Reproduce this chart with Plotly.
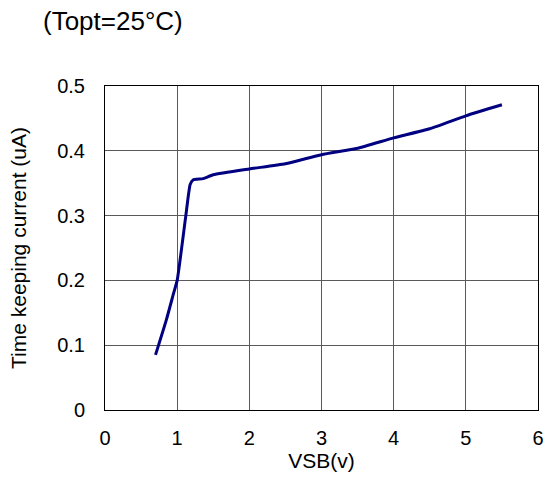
import plotly.graph_objects as go

vsb = [0.70, 0.85, 0.95, 1.00, 1.12, 1.18, 1.22, 1.36, 1.50, 2.00, 2.50, 3.00, 3.50, 4.00, 4.50, 5.00, 5.50]
current = [0.085, 0.139, 0.180, 0.200, 0.300, 0.348, 0.355, 0.357, 0.363, 0.372, 0.380, 0.394, 0.404, 0.420, 0.434, 0.454, 0.471]

x_ticks = [0, 1, 2, 3, 4, 5, 6]
y_ticks = [0, 0.1, 0.2, 0.3, 0.4, 0.5]
y_tick_labels = ["0", "0.1", "0.2", "0.3", "0.4", "0.5"]

FONT = "Arial, Liberation Sans, sans-serif"

fig = go.Figure()
fig.add_trace(go.Scatter(
    x=vsb, y=current, mode="lines",
    line=dict(color="#000080", width=3, shape="spline", smoothing=0.5),
    showlegend=False, hoverinfo="skip",
))

fig.update_layout(
    width=547, height=482,
    margin=dict(l=105, r=9, t=86, b=72),
    paper_bgcolor="white", plot_bgcolor="white",
    font=dict(family=FONT, size=20, color="black"),
    xaxis=dict(
        range=[0, 6], tickvals=x_ticks, ticktext=[str(v) for v in x_ticks],
        showgrid=True, gridcolor="#5a5a5a", gridwidth=1,
        showline=True, linecolor="black", linewidth=1, mirror=True,
        ticks="", zeroline=False, ticklabelstandoff=10, automargin=False,
        title=dict(text="VSB(v)", font=dict(size=21), standoff=4),
    ),
    yaxis=dict(
        range=[0, 0.5], tickvals=y_ticks, ticktext=y_tick_labels,
        showgrid=True, gridcolor="#5a5a5a", gridwidth=1,
        showline=True, linecolor="black", linewidth=1, mirror=True,
        ticks="", zeroline=False, automargin=False,
        ticklabelstandoff=15,
        title=dict(text="Time keeping current (uA)", font=dict(size=21), standoff=24),
    ),
    annotations=[dict(
        text="(Topt=25°C)", xref="paper", yref="paper",
        x=-0.148, y=1.20, xanchor="left", yanchor="middle",
        showarrow=False, font=dict(size=26, family=FONT),
    )],
)

fig.write_html(
    "out.html",
    config={"displayModeBar": False},
    post_script="document.body.style.margin='0';document.body.style.overflow='hidden';",
)
